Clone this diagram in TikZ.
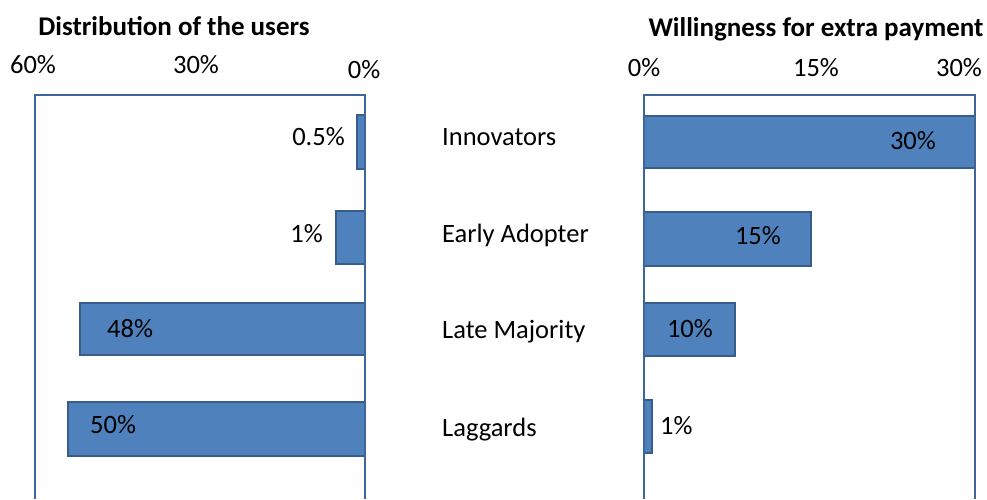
\documentclass[tikz,border=0pt]{standalone}
\usepackage{fontspec}
\setmainfont{Carlito}
\usepackage{xcolor}
\usetikzlibrary{positioning}
\definecolor{barfill}{HTML}{4F81BD}
\definecolor{barline}{HTML}{385D8A}
\definecolor{axisline}{HTML}{3F6698}
\tikzset{%
	bar/.style        = {draw=barline, fill=barfill, line width=1.6pt}, % Bar
	chartframe/.style = {draw=axisline, line width=2.4pt}, % Plot area
	charttitle/.style = {font=\fontsize{27}{31}\selectfont\bfseries, inner sep=0pt, anchor=base},
	ticktext/.style   = {font=\fontsize{26.5}{30}\selectfont, inner sep=0pt, anchor=base},
	category/.style   = {font=\fontsize{26.5}{30}\selectfont, inner sep=0pt, anchor=base west},
	valtext/.style    = {font=\fontsize{26.5}{30}\selectfont, inner sep=0pt},
}

\begin{document}
\begin{tikzpicture}[x=1pt,y=-1pt]
	\useasboundingbox (0,0) rectangle (987,499);
	
	% left chart
	\draw[bar] (357,115) rectangle (365,169);
	\draw[bar] (336,211) rectangle (365,264);
	\draw[bar] (80,303) rectangle (365,355);
	\draw[bar] (68,402) rectangle (365,456);
	\draw[chartframe] (35,499) -- (35,95) -- (365,95) -- (365,499);
	
	% right chart
	\draw[bar] (644,116) rectangle (975,168);
	\draw[bar] (644,212) rectangle (811,266);
	\draw[bar] (644,303) rectangle (735,356);
	\draw[bar] (644,400) rectangle (652,453);
	\draw[chartframe] (644,499) -- (644,95) -- (975,95) -- (975,499);
	
	\node[charttitle] (dist) at (174,35) {Distribution of the users};
	\node[charttitle] (pay) at (816,36) {Willingness for extra payment};
	
	\node[ticktext] (l60) at (33,73) {60\%};
	\node[ticktext] (l30) at (196,73) {30\%};
	\node[ticktext] (l0) at (364,78) {0\%};
	\node[ticktext] (r0) at (644,76) {0\%};
	\node[ticktext] (r15) at (816,76) {15\%};
	\node[ticktext] (r30) at (959,76) {30\%};
	
	\node[category] (inno) at (442,145) {Innovators};
	\node[category] (early) at (442,242) {Early Adopter};
	\node[category] (late) at (442,338) {Late Majority};
	\node[category] (lagg) at (442,436) {Laggards};
	
	\node[valtext,anchor=base east] (uinno) at (345,145) {0.5\%};
	\node[valtext,anchor=base east] (uearly) at (323,242) {1\%};
	\node[valtext,anchor=base west] (ulate) at (107,337) {48\%};
	\node[valtext,anchor=base west] (ulagg) at (90,433) {50\%};
	\node[valtext,anchor=base east] (pinno) at (936,149) {30\%};
	\node[valtext,anchor=base east] (pearly) at (781,244) {15\%};
	\node[valtext,anchor=base east] (plate) at (713,337) {10\%};
	\node[valtext,anchor=base west] (plagg) at (660,434) {1\%};
\end{tikzpicture}
\end{document}
